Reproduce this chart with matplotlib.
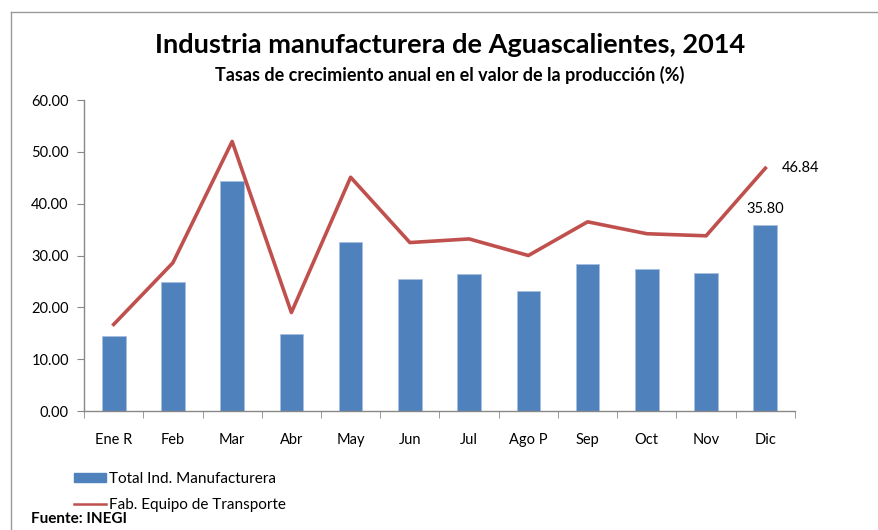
import matplotlib
matplotlib.use('Agg')
import matplotlib.pyplot as plt
import numpy as np
from matplotlib.lines import Line2D
from matplotlib.patches import Patch

plt.rcParams['font.family'] = ['Lato', 'DejaVu Sans']

meses = ['Ene R', 'Feb', 'Mar', 'Abr', 'May', 'Jun', 'Jul', 'Ago P', 'Sep', 'Oct', 'Nov', 'Dic']
total_manuf = [14.5, 24.8, 44.4, 14.9, 32.6, 25.5, 26.5, 23.2, 28.4, 27.4, 26.7, 35.80]
equipo_transp = [16.7, 28.6, 52.0, 19.0, 45.1, 32.5, 33.2, 30.0, 36.5, 34.2, 33.8, 46.84]

azul = '#4F81BD'
rojo = '#C0504D'

fig = plt.figure(figsize=(8.79, 5.30), dpi=100)
ax = fig.add_axes([0.0956, 0.2245, 0.8088, 0.5868])

x = np.arange(len(meses))
ax.bar(x, total_manuf, width=0.40, color=azul, edgecolor='#A7C0E0', linewidth=0.6, zorder=2)
ax.plot(x, equipo_transp, color=rojo, linewidth=2.6, zorder=3)

# etiquetas de dato del ultimo mes
ax.annotate(f'{total_manuf[-1]:.2f}', (x[-1], total_manuf[-1]), xytext=(0, 7),
            textcoords='offset points', ha='center', va='bottom', fontsize=10.5)
ax.annotate(f'{equipo_transp[-1]:.2f}', (x[-1], equipo_transp[-1]), xytext=(12, 0),
            textcoords='offset points', ha='left', va='center', fontsize=10.5)

ax.set_xlim(-0.5, len(meses) - 0.5)
ax.set_ylim(0, 60)
ax.set_yticks(np.arange(0, 61, 10))
ax.set_yticklabels([f'{v:.2f}' for v in np.arange(0, 61, 10)], fontsize=10.5)
ax.set_xticks(x)
ax.set_xticklabels(meses, fontsize=10.5)
ax.set_xticks(np.arange(-0.5, len(meses), 1), minor=True)
ax.tick_params(axis='x', which='major', length=0, pad=16)
ax.tick_params(axis='x', which='minor', length=5, color='#888888', direction='out')
ax.tick_params(axis='y', length=5, color='#888888', direction='out', pad=6)

for s in ['top', 'right']:
    ax.spines[s].set_visible(False)
for s in ['left', 'bottom']:
    ax.spines[s].set_color('#888888')
    ax.spines[s].set_linewidth(1.0)

fig.text(0.512, 0.915, 'Industria manufacturera de Aguascalientes, 2014', ha='center', va='center',
         fontsize=19.5, fontweight='bold')
fig.text(0.512, 0.858, 'Tasas de crecimiento anual en el valor de la producción (%)', ha='center',
         va='center', fontsize=13, fontweight='bold')

handles = [Patch(facecolor=azul, edgecolor=azul),
           Line2D([0], [0], color=rojo, linewidth=1.8)]
fig.legend(handles, ['Total Ind. Manufacturera', 'Fab. Equipo de Transporte'],
           loc='upper left', bbox_to_anchor=(0.072, 0.13), frameon=False, fontsize=11,
           handlelength=2.1, handleheight=0.55, handletextpad=0.2, labelspacing=0.8,
           borderpad=0.2)

fig.text(0.035, 0.020, 'Fuente: INEGI', ha='left', va='center', fontsize=11, fontweight='bold')

# marco del grafico
fig.add_artist(Line2D([0.0125, 0.0125], [0.0, 0.977], color='#999999', linewidth=1.0))
fig.add_artist(Line2D([0.0125, 1.0], [0.977, 0.977], color='#999999', linewidth=1.0))

fig.savefig('out.png', dpi=100)
